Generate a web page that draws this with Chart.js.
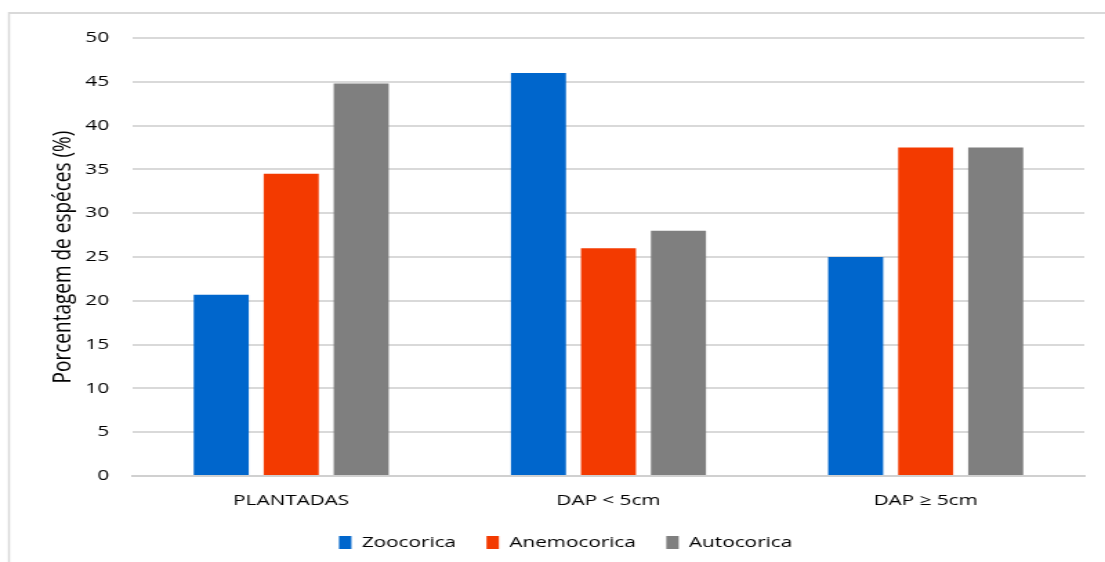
<!DOCTYPE html>
<html>
<head>
<meta charset="utf-8">
<script src="https://cdn.jsdelivr.net/npm/chart.js@4/dist/chart.umd.min.js"></script>
<style>
  html, body { margin: 0; padding: 0; background: #fff; overflow: hidden; }
  #wrap { width: 1105px; height: 562px; overflow: hidden; }
  /* o original está esticado na horizontal: desenha a 800px e estica para 1105px */
  #myChart { display: block; transform: scaleX(1.38125); transform-origin: 0 0; }
</style>
</head>
<body>
<div id="wrap"><canvas id="myChart" width="800" height="562"></canvas></div>
<script>
const categories = ['PLANTADAS', 'DAP < 5cm', 'DAP \u2265 5cm'];
const zoocorica = [20.7, 46, 25];
const anemocorica = [34.5, 26, 37.5];
const autocorica = [44.8, 28, 37.5];
const yTicks = [0, 5, 10, 15, 20, 25, 30, 35, 40, 45, 50];

// moldura do gráfico (linha superior e esquerda)
const frame = {
  id: 'frame',
  beforeDraw(chart) {
    const c = chart.ctx;
    c.save();
    c.fillStyle = '#fff';
    c.fillRect(0, 0, chart.width, chart.height);
    c.strokeStyle = '#d9d9d9';
    c.lineWidth = 2;
    c.beginPath();
    c.moveTo(6, 13);
    c.lineTo(chart.width, 13);
    c.stroke();
    c.lineWidth = 1.5;
    c.beginPath();
    c.moveTo(6.5, 12);
    c.lineTo(6.5, chart.height);
    c.stroke();
    c.restore();
  },
  // legenda um pouco à direita, como no original
  afterLayout(chart) {
    if (chart.legend) {
      chart.legend.left += 17;
      chart.legend.right += 17;
    }
  }
};

const ctx = document.getElementById('myChart').getContext('2d');
const data = {
  labels: categories,
  datasets: [
    { label: 'Zoocorica', backgroundColor: '#0066CC', data: zoocorica },
    { label: 'Anemocorica', backgroundColor: '#F33A00', data: anemocorica },
    { label: 'Autocorica', backgroundColor: '#7F7F7F', data: autocorica }
  ]
};

var myChart = new Chart(ctx, {
  type: 'bar',
  data: data,
  plugins: [frame],
  options: {
    responsive: false,
    maintainAspectRatio: false,
    animation: false,
    devicePixelRatio: 1,
    layout: { padding: { left: 0, right: 15, top: 38, bottom: 2 } },
    datasets: { bar: { barPercentage: 0.786, categoryPercentage: 0.662 } },
    plugins: {
      tooltip: { enabled: false },
      legend: {
        position: 'bottom',
        labels: {
          boxWidth: 9, boxHeight: 13, padding: 22,
          color: '#000',
          font: { family: 'Open Sans', size: 15 }
        }
      }
    },
    scales: {
      x: {
        afterFit(axis) { axis.height = 37; },
        grid: { display: false, drawTicks: false },
        border: { color: '#d0d0d0', width: 2 },
        ticks: { color: '#000', padding: 16, font: { family: 'Open Sans', size: 15 } }
      },
      y: {
        min: 0, max: 50,
        afterBuildTicks(axis) { axis.ticks = yTicks.map(v => ({ value: v })); },
        afterFit(axis) { axis.width = 96; },
        grid: { color: '#d9d9d9', lineWidth: 2, drawTicks: false },
        border: { display: false },
        ticks: { color: '#000', padding: 17, font: { family: 'Open Sans', size: 15 } },
        title: {
          display: true,
          text: 'Porcentagem de espéces (%)',
          color: '#000',
          padding: { top: 34, bottom: 0 },
          font: { family: 'Open Sans', size: 19 }
        }
      }
    }
  }
});
</script>
</body>
</html>
